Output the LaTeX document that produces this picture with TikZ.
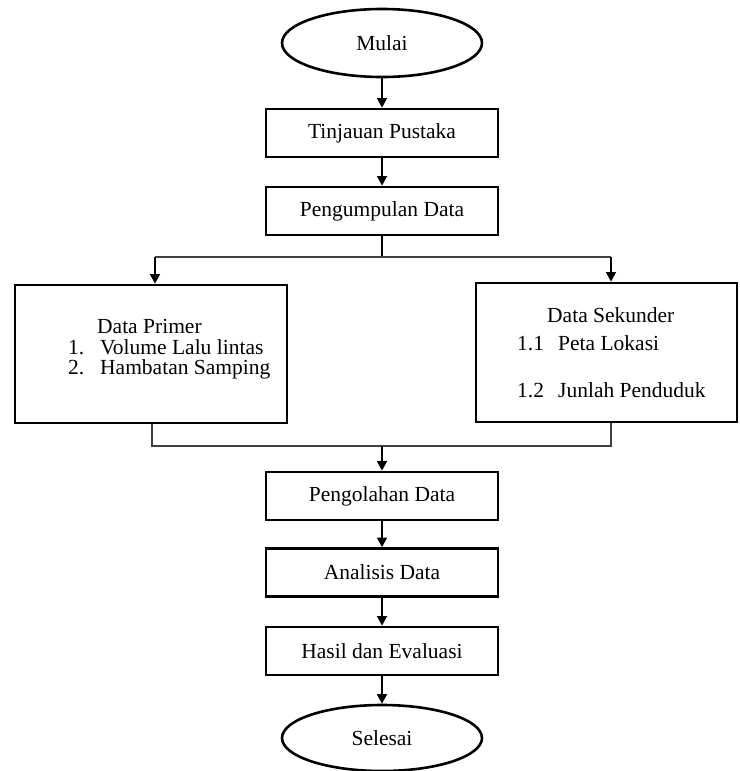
\documentclass[tikz,border=0pt]{standalone}
\usepackage{fontspec}
\setmainfont{Liberation Serif}
\usetikzlibrary{arrows.meta,shapes.geometric,calc}
\begin{document}
\begin{tikzpicture}[x=1pt,y=-1pt,
  font=\fontsize{21.5}{25}\selectfont,
  procbox/.style={draw, line width=2.8pt, rectangle, minimum width=232pt, minimum height=48pt, inner sep=0pt},
  termbox/.style={draw, line width=2.6pt, ellipse, minimum width=200pt, minimum height=68pt, inner sep=0pt},
  bigbox/.style={draw, line width=2.8pt, rectangle, inner sep=0pt},
  txt/.style={inner sep=0pt, anchor=base west},
  flow/.style={line width=1.6pt, -{Triangle[length=9.5pt,width=10pt]}},
  link/.style={line width=1.3pt, draw=black!75}
]
\useasboundingbox (0,0) rectangle (739,771);
\node[termbox] (mulai) at (382,43) {Mulai};
\node[procbox] (tinjau) at (382,133) {Tinjauan Pustaka};
\node[procbox] (kumpul) at (382,211) {Pengumpulan Data};
\node[bigbox, minimum width=272pt, minimum height=138pt] (primer) at (151,354) {};
\node[bigbox, minimum width=261pt, minimum height=139pt] (sekunder) at (606.5,352.5) {};
\node[procbox] (olah) at (382,496) {Pengolahan Data};
\node[procbox] (analisis) at (382,572.5) {Analisis Data};
\node[procbox] (hasil) at (382,651) {Hasil dan Evaluasi};
\node[termbox, minimum height=66pt] (selesai) at (382,738) {Selesai};

% texts in Data Primer
\node[txt] (p0) at (97,333) {Data Primer};
\node[txt] (p1n) at (68,354) {1.};
\node[txt] (p1) at (100,354) {Volume Lalu lintas};
\node[txt] (p2n) at (68,374) {2.};
\node[txt] (p2) at (100,374) {Hambatan Samping};
% texts in Data Sekunder
\node[txt] (s0) at (547,322) {Data Sekunder};
\node[txt] (s1n) at (517,350) {1.1};
\node[txt] (s1) at (558,350) {Peta Lokasi};
\node[txt] (s2n) at (517,397) {1.2};
\node[txt] (s2) at (558,397) {Junlah Penduduk};

\coordinate (split) at (382,257);
\coordinate (splitL) at (155,257);
\coordinate (splitR) at (611,257);
\coordinate (mergeL) at (152,446);
\coordinate (mergeR) at (611,446);
\coordinate (merge) at (382,446);

\draw[flow] (mulai) -- (tinjau);
\draw[flow] (tinjau) -- (kumpul);
\draw[line width=1.6pt] (kumpul.south -| split) -- (split);
\draw[link] (splitL) -- (splitR);
\draw[flow] (splitL) -- (splitL |- primer.north);
\draw[flow] (splitR) -- (splitR |- sekunder.north);
\draw[link] (mergeL |- primer.south) -- (mergeL) -- (mergeR) -- (mergeR |- sekunder.south);
\draw[flow] (merge) -- (merge |- olah.north);
\draw[flow] (olah) -- (analisis);
\draw[flow] (analisis) -- (hasil);
\draw[flow] (hasil) -- (selesai);
\end{tikzpicture}
\end{document}
